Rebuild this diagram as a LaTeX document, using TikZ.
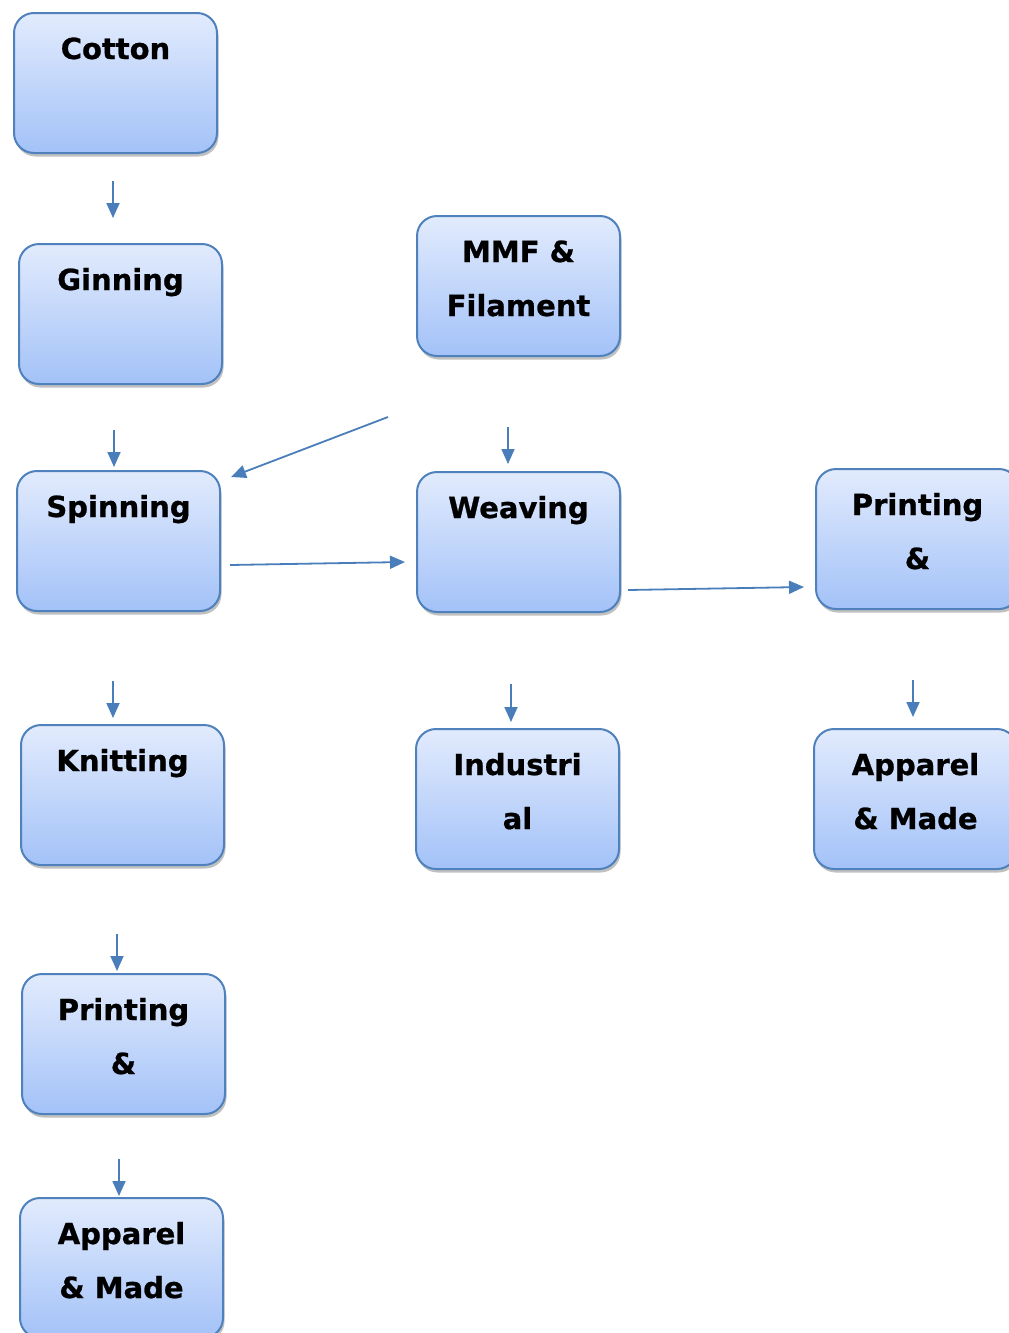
\documentclass[tikz,border=0pt]{standalone}
\usepackage{fontspec}
\setmainfont{DejaVu Sans}[BoldFeatures={FakeBold=0.8}]
\usetikzlibrary{shadows,arrows.meta,calc}
\definecolor{edge}{RGB}{79,129,189}
\definecolor{topc}{RGB}{226,235,253}
\definecolor{botc}{RGB}{163,194,248}
\definecolor{arr}{RGB}{74,126,187}
\tikzset{
  box/.style={rectangle, rounded corners=20pt, draw=edge, line width=2pt,
    top color=topc, bottom color=botc, minimum width=203pt, minimum height=140pt,
    inner sep=0pt, anchor=north west,
    drop shadow={shadow xshift=1.5pt, shadow yshift=-3.5pt, opacity=0.45, fill=black!55}},
  lbl/.style={font=\fontsize{29}{34}\selectfont\bfseries, anchor=base, inner sep=0pt},
  flow/.style={draw=arr, line width=1.8pt, -{Triangle[length=15pt,width=13pt]}},
}
\begin{document}
\begin{tikzpicture}[x=1pt,y=1pt]
\useasboundingbox (0,0) rectangle (1009,-1333);
\clip (0,0) rectangle (1009,-1333);
% boxes
\node[box] (cotton) at (13,-12) {};
\node[box] (ginning) at (18,-243) {};
\node[box] (spinning) at (16,-470) {};
\node[box] (knitting) at (20,-724) {};
\node[box] (printL) at (21,-973) {};
\node[box] (appL) at (19,-1197) {};
\node[box] (mmf) at (416,-215) {};
\node[box] (weaving) at (416,-471) {};
\node[box] (indus) at (415,-728) {};
\node[box] (printR) at (815,-468) {};
\node[box] (appR) at (813,-728) {};
% labels
\node[lbl] (t1) at ($(cotton.north)+(0,-47)$) {Cotton};
\node[lbl] (t2) at ($(ginning.north)+(0,-47)$) {Ginning};
\node[lbl] (t3) at ($(spinning.north)+(0,-47)$) {Spinning};
\node[lbl] (t4) at ($(knitting.north)+(0,-47)$) {Knitting};
\node[lbl] (t5) at ($(printL.north)+(0,-47)$) {Printing};
\node[lbl] (t5b) at ($(printL.north)+(0,-101)$) {\&};
\node[lbl] (t6) at ($(appL.north)+(0,-47)$) {Apparel};
\node[lbl] (t6b) at ($(appL.north)+(0,-101)$) {\& Made};
\node[lbl] (t7) at ($(mmf.north)+(0,-47)$) {MMF \&};
\node[lbl] (t7b) at ($(mmf.north)+(0,-101)$) {Filament};
\node[lbl] (t8) at ($(weaving.north)+(0,-47)$) {Weaving};
\node[lbl] (t9) at ($(indus.north)+(0,-47)$) {Industri};
\node[lbl] (t9b) at ($(indus.north)+(0,-101)$) {al};
\node[lbl] (t10) at ($(printR.north)+(0,-47)$) {Printing};
\node[lbl] (t10b) at ($(printR.north)+(0,-101)$) {\&};
\node[lbl] (t11) at ($(appR.north)+(0,-47)$) {Apparel};
\node[lbl] (t11b) at ($(appR.north)+(0,-101)$) {\& Made};
% arrow end points
\coordinate (a1s) at (113,-181); \coordinate (a1e) at (113,-218);
\coordinate (a2s) at (114,-430); \coordinate (a2e) at (114,-467);
\coordinate (a3s) at (113,-681); \coordinate (a3e) at (113,-718);
\coordinate (a4s) at (117,-934); \coordinate (a4e) at (117,-971);
\coordinate (a5s) at (119,-1159); \coordinate (a5e) at (119,-1196);
\coordinate (a6s) at (508,-427); \coordinate (a6e) at (508,-464);
\coordinate (a7s) at (511,-684); \coordinate (a7e) at (511,-722);
\coordinate (a8s) at (913,-680); \coordinate (a8e) at (913,-717);
\coordinate (d1s) at (388,-417); \coordinate (d1e) at (231,-477);
\coordinate (h1s) at (230,-565); \coordinate (h1e) at (405,-562);
\coordinate (h2s) at (628,-590); \coordinate (h2e) at (804,-587);
\foreach \p in {a1,a2,a3,a4,a5,a6,a7,a8,d1,h1,h2}
  \draw[flow] (\p s) -- (\p e);
\end{tikzpicture}
\end{document}
